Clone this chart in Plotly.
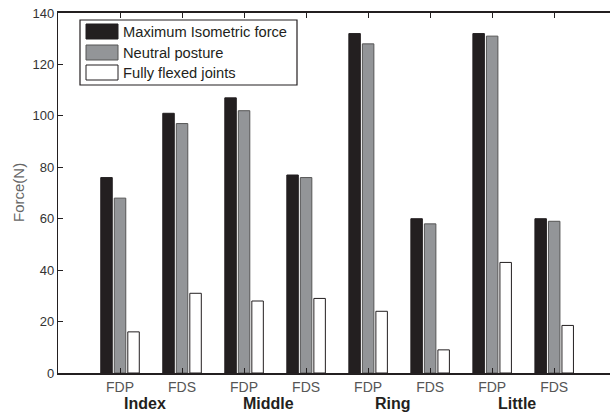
import plotly.graph_objects as go

# ---- data ----
muscles = ["FDP", "FDS", "FDP", "FDS", "FDP", "FDS", "FDP", "FDS"]
fingers = ["Index", "Middle", "Ring", "Little"]
series_names = ["Maximum Isometric force", "Neutral posture", "Fully flexed joints"]
max_isometric = [76, 101, 107, 77, 132, 60, 132, 60]
neutral_posture = [68, 97, 102, 76, 128, 58, 131, 59]
fully_flexed = [16, 31, 28, 29, 24, 9, 43, 18.5]
y_ticks = [0, 20, 40, 60, 80, 100, 120, 140]

# ---- style ----
fills = ["#231f20", "#939598", "#ffffff"]
edges = ["#231f20", "#555555", "#231f20"]
W, H = 610, 413
ML, MT, MB = 58, 13, 40
PW, PH = W - ML, H - MT - MB
FONT = "Liberation Sans, Arial, Helvetica, sans-serif"

xpos = list(range(1, len(muscles) + 1))
values = [max_isometric, neutral_posture, fully_flexed]

fig = go.Figure()
for name, vals, fc, ec in zip(series_names, values, fills, edges):
    fig.add_trace(go.Bar(
        x=xpos, y=vals, name=name,
        marker=dict(color=fc, line=dict(color=ec, width=1)),
        showlegend=False,
    ))

def px_x(p):
    return (p - ML) / PW

def px_y(p):
    return (H - MB - p) / PH

shapes = []
annotations = []
# legend box
shapes.append(dict(type="rect", xref="paper", yref="paper",
                   x0=px_x(80), x1=px_x(297), y0=px_y(85), y1=px_y(20),
                   line=dict(color="#231f20", width=1.2), fillcolor="white", layer="above"))
row_tops = [24, 45, 65]
for name, fc, ec, top in zip(series_names, fills, edges, row_tops):
    shapes.append(dict(type="rect", xref="paper", yref="paper",
                       x0=px_x(86), x1=px_x(118), y0=px_y(top + 15), y1=px_y(top),
                       line=dict(color=ec, width=1), fillcolor=fc, layer="above"))
    annotations.append(dict(xref="paper", yref="paper", x=px_x(121), y=px_y(top + 8),
                            xanchor="left", yanchor="middle", text=name, showarrow=False,
                            font=dict(family=FONT, size=14.7, color="#231f20")))

# finger group labels
for i, f in enumerate(fingers):
    annotations.append(dict(xref="x", yref="paper", x=2 * i + 1.5 - 0.1, y=0,
                            yshift=-30, xanchor="center", yanchor="middle", text="<b>%s</b>" % f,
                            showarrow=False, font=dict(family=FONT, size=16, color="#231f20")))

# y axis title
annotations.append(dict(xref="paper", yref="paper", x=0, xshift=-40, y=px_y(193),
                        xanchor="center", yanchor="middle", text="Force(N)", textangle=-90,
                        showarrow=False, font=dict(family=FONT, size=15, color="#666666")))

fig.update_layout(
    width=W, height=H,
    margin=dict(l=ML, r=0, t=MT, b=MB, pad=0),
    paper_bgcolor="white", plot_bgcolor="white",
    barmode="group", bargap=0.346, bargroupgap=0.15,
    font=dict(family=FONT, size=13, color="#333333"),
    shapes=shapes, annotations=annotations,
    xaxis=dict(range=[0, 8.9], tickvals=xpos, ticktext=muscles,
               ticks="inside", ticklen=5, tickcolor="#231f20", tickwidth=1,
               showline=True, linecolor="#231f20", linewidth=1.6, mirror="ticks",
               showgrid=False, zeroline=False,
               tickfont=dict(family=FONT, size=14, color="#555555")),
    yaxis=dict(range=[0, 140], tickvals=y_ticks,
               ticks="inside", ticklen=5, tickcolor="#231f20", tickwidth=1,
               showline=True, linecolor="#231f20", linewidth=1.4,
               showgrid=False, zeroline=False,
               tickfont=dict(family=FONT, size=13, color="#333333")),
    yaxis2=dict(range=[0, 140], tickvals=y_ticks, overlaying="y", side="right",
                ticks="inside", ticklen=4, tickcolor="#999999", tickwidth=1,
                showticklabels=False, showline=False, showgrid=False, zeroline=False),
)

fig.write_html("out.html")
